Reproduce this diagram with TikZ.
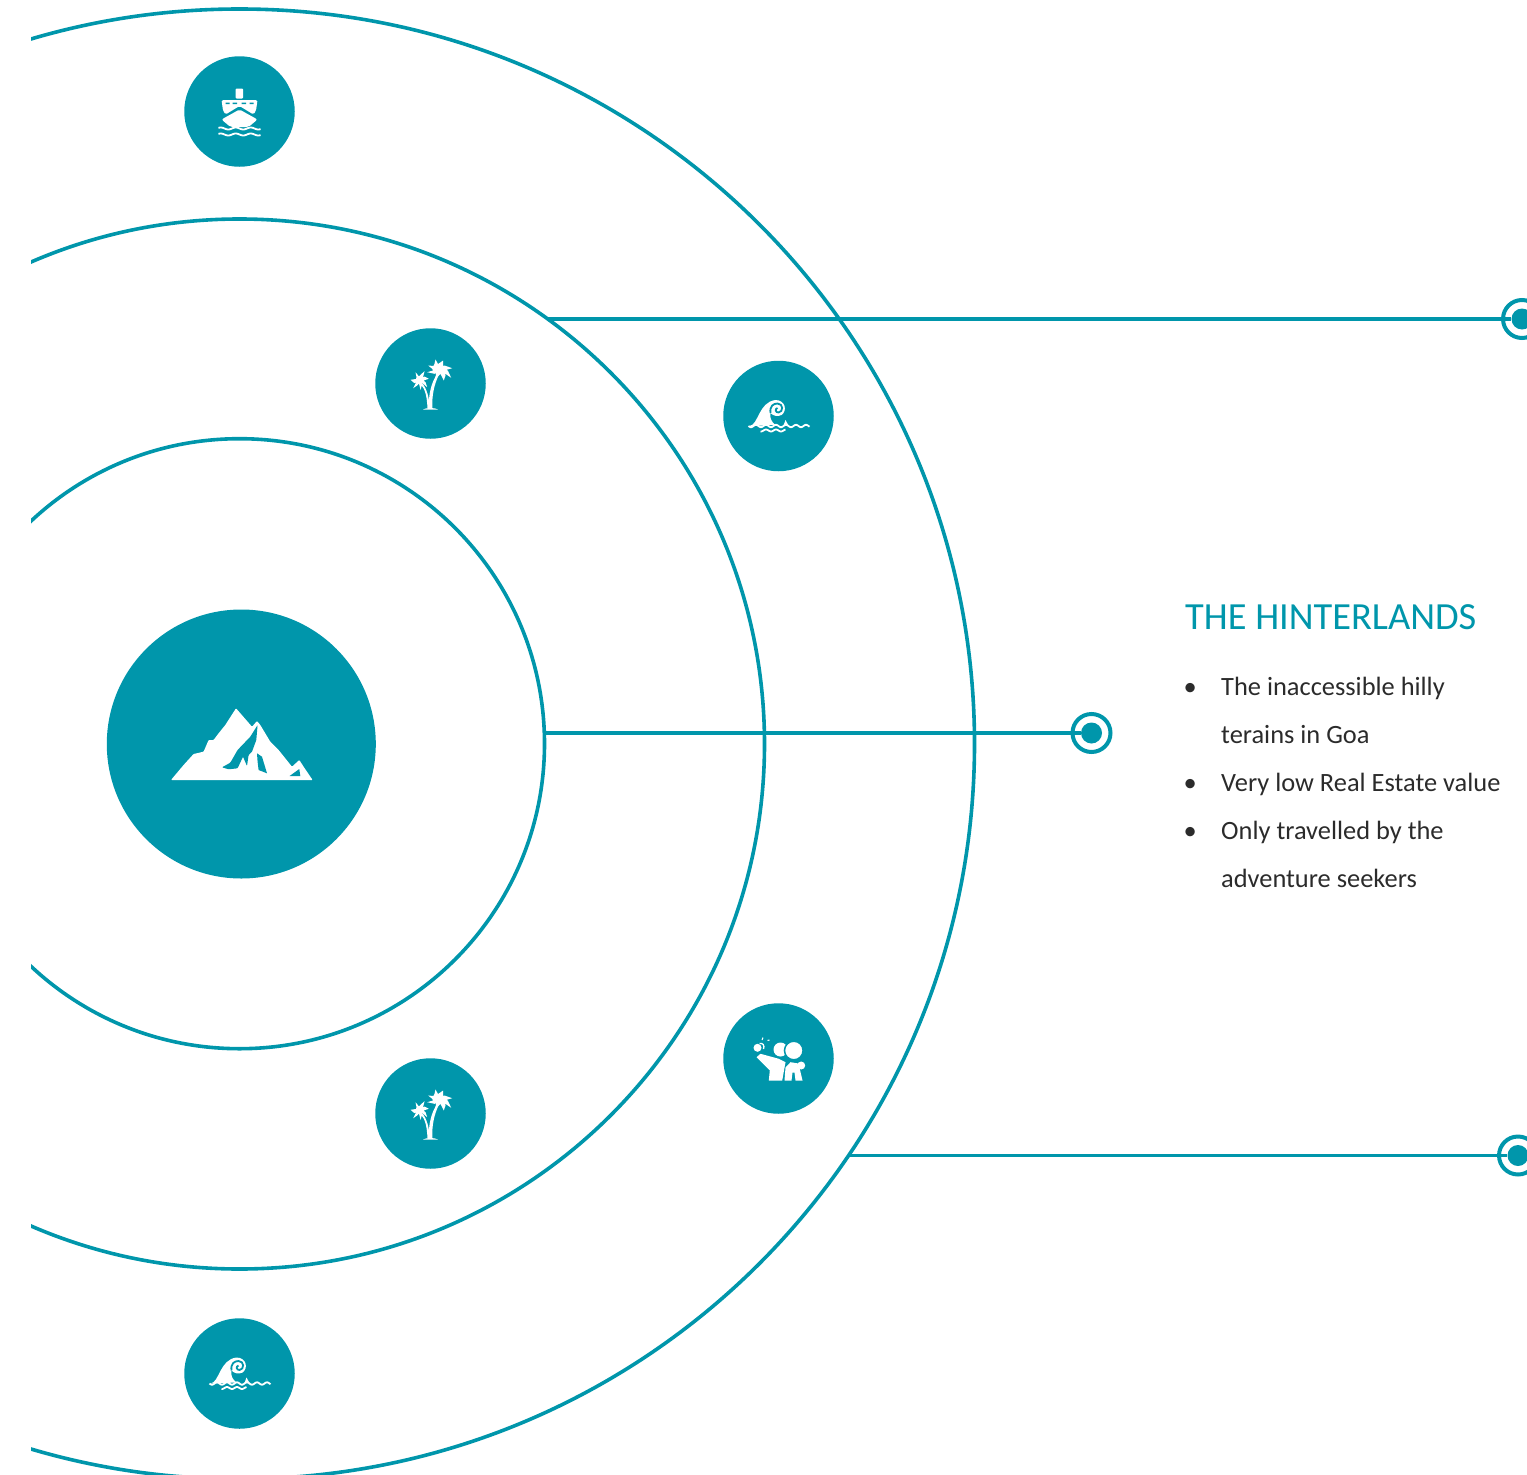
\documentclass[tikz,border=0pt]{standalone}
\usepackage{fontspec}
\setmainfont{Carlito}
\definecolor{hintereal}{HTML}{0096AB}
\definecolor{bodygrey}{HTML}{2B2B2B}
\tikzset{
  ship icon/.pic={
    \fill[white,rounded corners=1pt] (-4,-23) rectangle (3.5,-13);
    \fill[white,rounded corners=1.5pt] (-18,-11.5) -- (18,-11.5) -- (16.5,-1) -- (14,3) -- (0,-5.5) -- (-14,3) -- (-16.5,-1) -- cycle;
    \fill[hintereal] (-14,-9) rectangle (-10,-7.5) (-7,-9) rectangle (-2.5,-7.5) (2,-9) rectangle (6.5,-7.5) (10,-9) rectangle (14,-7.5);
    \fill[white,rounded corners=2pt] (0,-2) -- (18,8) -- (9,15.5) -- (-9,15.5) -- (-18,8) -- cycle;
    \draw[wave line] plot[domain=-21:21,samples=50] (\x,{17+1*sin(\x*24)});
    \draw[wave line] plot[domain=-21:21,samples=50] (\x,{23+1*sin(\x*24)});
  },
  palm icon/.pic={
    \fill[white] (-2.3,-18) -- (3,-17.5) -- (4,-19.7) -- (5,-24) -- (7.5,-19.5) -- (9.3,-20.7) -- (12.7,-23) -- (12.5,-17.5) -- (14,-18) -- (21.7,-15.3) -- (15.5,-13.5) -- (17.3,-13) -- (20.7,-5.7) -- (14.5,-10) -- (15,-8) -- (13.3,-3) -- (10,-9.5) -- (8.3,-8) -- (5,-4.7) -- (5.5,-10.5) -- (4,-9.7) -- (-3.3,-11.3) -- (2.5,-13) -- (1.7,-14.7) -- cycle;
    \fill[white] (-20,-3.7) -- (-14.5,-4.5) -- (-14,-6.3) -- (-15,-11.3) -- (-11.5,-7) -- (-10,-8.7) -- (-6,-12.3) -- (-7.5,-6) -- (-6,-7) -- (-1.7,-4.7) -- (-7,-3) -- (-5,-1.3) -- (-3.3,3.7) -- (-8.3,-0.5) -- (-8.3,1) -- (-10,6.3) -- (-11.5,0) -- (-13.3,2) -- (-17.3,4.7) -- (-14.5,-1) -- (-16,-0.3) -- cycle;
    \fill[white] (-1.5,25) .. controls (-2.5,12) and (1,-2) .. (7,-10) -- (8.5,-9) .. controls (4,0) and (1,12) .. (2,25) -- cycle;
    \fill[white] (-1,25) .. controls (-1,14) and (-4,5) .. (-8,0) -- (-9.5,1) .. controls (-5,6) and (-3.5,14) .. (-3,25) -- cycle;
    \fill[white] (-7.5,26) .. controls (-4,24) and (4,24) .. (7.5,26) -- cycle;
  },
  wave icon/.pic={
    \fill[white] (-29,10) .. controls (-20,9) and (-20,-14) .. (-3,-16) .. controls (7,-16) and (9,-5) .. (3,-1) .. controls (-1,1) and (-5,0) .. (-8,-3) .. controls (-9,2) and (-7,6) .. (-3,9) -- cycle;
    \draw[hintereal,line width=1.8pt] (-8,-3) .. controls (-9,-10) and (-5,-12.5) .. (-1,-12.5) .. controls (5,-12.5) and (5,-4) .. (0,-3.5) .. controls (-3,-3.5) and (-4,-7) .. (-1,-8);
    \fill[white] (5,9.5) -- (7,4) -- (10,9.5) -- cycle;
    \draw[wave line] plot[domain=-30:31,samples=60] (\x,{10+1.2*sin(\x*36)});
    \draw[wave line] plot[domain=-18:7,samples=30] (\x,{14.5+1*sin(\x*36)});
  },
  selfie icon/.pic={
    \fill[white] (2,-9) circle (7);
    \fill[white] (-21,-10.7) circle (4);
    \draw[white,line width=1.3pt] (-19,-15) .. controls (-16,-16) and (-13.5,-13) .. (-15,-9.5);
    \fill[white] (22.7,7) circle (4);
    \fill[white] (-22,-1.3) -- (-18,-4.7) -- (0.3,0.3) -- (7,3.7) -- (3.7,22) -- (-9.7,22) -- (-8.7,12) -- cycle;
    \fill[white] (6,22) -- (7,9) -- (12,3.7) -- (20,5) -- (24,22) -- (17,22) -- (16,14) -- (14,14) -- (13,22) -- cycle;
    \draw[hintereal,line width=1.5pt,fill=white] (15.3,-8) circle (9.3);
    \draw[white,line width=1pt] (-16.5,-18.5) -- (-15.5,-21) (-11,-18) -- (-9,-18.5);
  },
  mountain icon/.pic={
    \fill[white,rounded corners=0.8pt] (-70.3,36) -- (-57.7,21) -- (-47.7,10) -- (-37.7,7.7) -- (-32.7,-4) -- (-27.7,-4) -- (-22.7,-10.7) -- (-16,-19) -- (-5.3,-35.7) -- (10.7,-17.3) -- (15.7,-23) -- (19,-19) -- (29,-2.3) -- (37.3,6) -- (50.7,22.7) -- (58,16) -- (62.3,22.7) -- (71.3,36) -- cycle;
    \fill[hintereal,rounded corners=0.8pt] (-19.3,23.3) -- (-11,18.7) -- (-3.7,6) -- (9,-7.3) -- (16.3,-19) -- (15,-4) -- (10.7,7.7) -- (7.3,11) -- (5.7,22) -- (1.7,12.7) -- (-3.7,24.3) -- (-12.7,25.3) -- cycle;
    \fill[hintereal] (15.7,9.3) -- (20.7,12.7) -- (25.7,29.3) -- (17.3,26) -- (16.3,17.7) -- cycle;
    \fill[hintereal] (48.3,32) -- (58,25) -- (59,32) -- cycle;
  }
}

\begin{document}
\begin{tikzpicture}
[x=1pt,y=-1pt,
  wave line/.style={draw=white,line width=1.8pt},
  ring node/.style={circle,draw=hintereal,line width=3.6pt,inner sep=0pt},
  icon node/.style={circle,fill=hintereal,inner sep=0pt,minimum size=110.5pt},
  end node/.style={circle,draw=hintereal,line width=4pt,inner sep=0pt,minimum size=38pt},
  end dot/.style={circle,fill=hintereal,inner sep=0pt,minimum size=21pt},
  title node/.style={anchor=base west,inner sep=0pt,text=hintereal,font=\fontsize{38.4}{44}\selectfont},
  text node/.style={anchor=base west,inner sep=0pt,text=bodygrey,font=\fontsize{26.4}{32}\selectfont}]
  \useasboundingbox (0,0) rectangle (1527,1475);
  \clip (31,0) rectangle (1527,1475);
  \node[ring node,minimum size=610pt] (inner ring) at (239.5,743.7) {};
  \node[ring node,minimum size=1050pt] (middle ring) at (239.5,744) {};
  \node[ring node,minimum size=1470pt] (outer ring) at (239.5,744) {};
  \node[icon node,minimum size=269pt] (mountain) at (241.3,744) {};
  \node[icon node] (ship) at (239.5,111.5) {};
  \node[icon node] (palm top) at (430.5,383.5) {};
  \node[icon node] (wave top) at (778.5,416) {};
  \node[icon node] (selfie) at (778.5,1058.5) {};
  \node[icon node] (palm low) at (430.5,1113.5) {};
  \node[icon node] (wave low) at (239.5,1373.5) {};
  \pic at (mountain) {mountain icon};
  \pic at (ship) {ship icon};
  \pic at (palm top) {palm icon};
  \pic at (wave top) {wave icon};
  \pic at (selfie) {selfie icon};
  \pic at (palm low) {palm icon};
  \pic at (wave low) {wave icon};
  \coordinate (start top) at (547,319);
  \coordinate (start mid) at (545,733);
  \coordinate (start low) at (848,1155.5);
  \node[end node] (end top) at (1522,319) {};
  \node[end dot] (dot top) at (1522,319) {};
  \node[end node] (end mid) at (1091.5,733) {};
  \node[end dot] (dot mid) at (1091.5,733) {};
  \node[end node] (end low) at (1518,1155.5) {};
  \node[end dot] (dot low) at (1518,1155.5) {};
  \path[draw=hintereal,line width=3.5pt]
    (start top) edge (dot top)
    (start mid) edge (dot mid)
    (start low) edge (dot low);
  \node[title node] (title) at (1185,629) {THE HINTERLANDS};
  \node[text node] (bullet a) at (1183.5,695) {•};
  \node[text node] (line a) at (1221,695) {The inaccessible hilly};
  \node[text node] (line b) at (1221,743) {terains in Goa};
  \node[text node] (bullet b) at (1183.5,791) {•};
  \node[text node] (line c) at (1221,791) {Very low Real Estate value};
  \node[text node] (bullet c) at (1183.5,839) {•};
  \node[text node] (line d) at (1221,839) {Only travelled by the};
  \node[text node] (line e) at (1221,887) {adventure seekers};
\end{tikzpicture}
\end{document}
